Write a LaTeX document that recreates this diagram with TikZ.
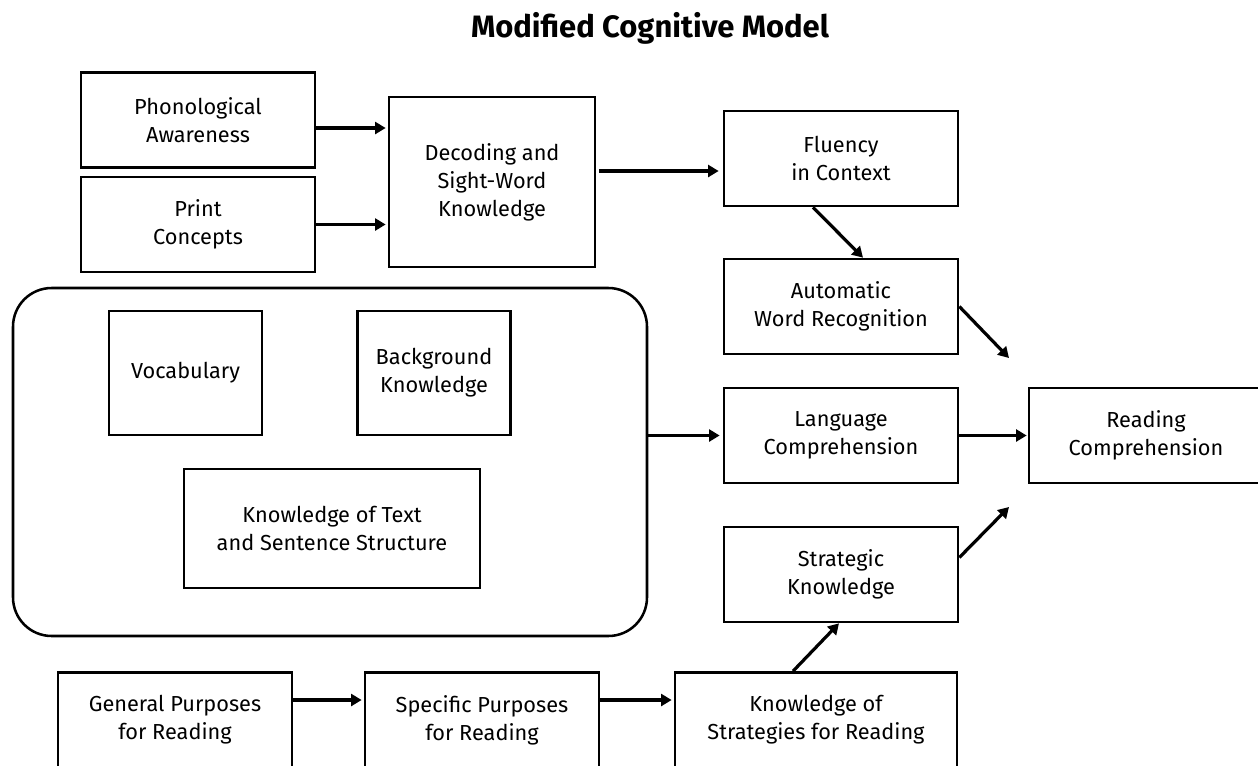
\documentclass[tikz,border=0pt]{standalone}
\usepackage{fontspec}
\setmainfont{Fira Sans}
\usetikzlibrary{arrows.meta,calc}
\begin{document}
\begin{tikzpicture}[x=0.75pt,y=-0.75pt,
  box/.style={draw, line width=2pt, align=center, inner sep=0pt,
    font=\fontsize{16.3}{21}\selectfont},
  std/.style={box, minimum width=175.5pt, minimum height=71.25pt},
  arr/.style={line width=2.4pt, -{Triangle[length=8pt,width=9pt]}},
]
\useasboundingbox (0,0) rectangle (1258,765);
\node[font=\bfseries\fontsize{23.2}{27}\selectfont] (title) at (650,28) {Modified Cognitive Model};

\node[std] (phon) at (198,120) {Phonological\\Awareness};
\node[std] (print) at (198,224.5) {Print\\Concepts};
\node[box, minimum width=154.5pt, minimum height=127.5pt] (dec) at (492,182) {Decoding and\\Sight-Word\\Knowledge};
\node[std] (flu) at (841,158.5) {Fluency\\in Context};
\node[std] (awr) at (841,306.5) {Automatic\\Word Recognition};
\node[std] (lang) at (841,435.5) {Language\\Comprehension};
\node[std] (read) at (1146,435.5) {Reading\\Comprehension};
\node[std] (strat) at (841,574.5) {Strategic\\Knowledge};

\node[draw, line width=1.9pt, rounded corners=29pt, minimum width=475.5pt, minimum height=261pt] (cont) at (330,462) {};
\node[box, minimum width=114.75pt, minimum height=93pt] (voc) at (185.5,373) {Vocabulary};
\node[box, minimum width=114.75pt, minimum height=93pt] (bg) at (434,373) {Background\\Knowledge};
\node[box, minimum width=222pt, minimum height=89.25pt] (ktext) at (332,528.5) {Knowledge of Text\\and Sentence Structure};

\node[std] (gen) at (175,720) {General Purposes\\for Reading};
\node[std] (spec) at (482,720) {Specific Purposes\\for Reading};
\node[box, minimum width=211.5pt, minimum height=71.25pt] (ks) at (816,720) {Knowledge of\\Strategies for Reading};

\coordinate (p1) at (1009,358);
\coordinate (p2) at (1009,507);

\draw[arr] ($(phon.east)+(0,8)$) -- ($(phon.east -| dec.west)+(-2,8)$);
\draw[arr] (print.east) -- ($(print.east -| dec.west)+(-2,0)$);
\draw[arr] ($(dec.east)+(3,-11)$) -- ($(dec.east -| flu.west)+(-4,-11)$);
\draw[arr] ($(flu.south)+(-28,0)$) -- ($(awr.north)+(22,0)$);
\draw[arr] (awr.east) -- (p1);
\draw[arr] (lang.west -| cont.east) -- ($(lang.west)+(-3,0)$);
\draw[arr] (lang.east) -- ($(read.west)+(-1,0)$);
\draw[arr] ($(strat.east)+(0,-17)$) -- (p2);
\draw[arr] ($(ks.north)+(-23,0)$) -- ($(strat.south)+(-2,0)$);
\draw[arr] ($(gen.east)+(0,-20)$) -- ($(spec.west)+(-2,-20)$);
\draw[arr] ($(spec.east)+(0,-20)$) -- ($(ks.west)+(-2,-20)$);
\end{tikzpicture}
\end{document}
